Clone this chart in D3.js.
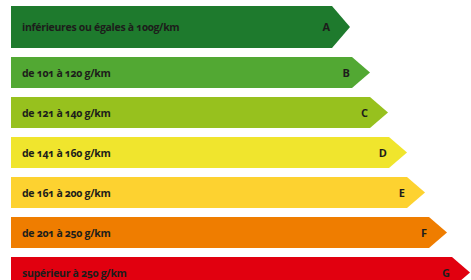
<!DOCTYPE html>
<html>
<head>
<meta charset="utf-8">
<script src="https://cdn.jsdelivr.net/npm/d3@7"></script>
<style>
  html, body { margin: 0; padding: 0; background: #ffffff; overflow: hidden; }
  svg { display: block; }
  text { font-family: "Open Sans", "Lato", sans-serif; font-weight: 700; fill: #1d1d1b; font-variant-numeric: oldstyle-nums; font-feature-settings: "onum" 1; }
</style>
</head>
<body>
<svg id="chart" width="471" height="280"></svg>
<script>
// Classes d'émission de CO2
const classes = ["A", "B", "C", "D", "E", "F", "G"];
const labels = [
  "inférieures ou égales à 100g/km",
  "de 101 à 120 g/km",
  "de 121 à 140 g/km",
  "de 141 à 160 g/km",
  "de 161 à 200 g/km",
  "de 201 à 250 g/km",
  "supérieur à 250 g/km"
];
// longueur relative de chaque flèche
const lengths = [321, 341, 359, 378, 396, 418, 441];
const colors = ["#1e7a2d", "#52a833", "#97c11e", "#f0e52d", "#fdd230", "#ef7d00", "#e1000f"];

const svg = d3.select("#chart");
const left = 11;
const x = d3.scaleLinear().domain([0, 460]).range([left, left + 460]);
const y = d3.scaleBand().domain(classes).range([12.5, 292.5]).paddingInner(0.225).paddingOuter(0.1125);
const tip = 18;

const rows = classes.map((c, i) => ({ c, label: labels[i], len: lengths[i], color: colors[i], i }));

const g = svg.selectAll("g.row").data(rows).join("g").attr("class", "row");

function geom(d) {
  let top = y(d.c);
  let h = y.bandwidth();
  if (d.i === 0) { top -= 11; h += 11; }
  return { top, h, mid: top + h / 2, x0: x(0), x1: x(d.len) };
}

g.append("path")
  .attr("d", d => {
    const q = geom(d);
    return `M${q.x0},${q.top}L${q.x1},${q.top}L${q.x1 + tip},${q.mid}L${q.x1},${q.top + q.h}L${q.x0},${q.top + q.h}Z`;
  })
  .attr("fill", d => d.color);

g.append("text")
  .attr("x", d => geom(d).x0 + 11)
  .attr("y", d => geom(d).mid + 4)
  .attr("font-size", 10.5)
  .attr("letter-spacing", -0.3)
  .text(d => d.label);

g.append("text")
  .attr("x", d => geom(d).x1 - 2)
  .attr("y", d => geom(d).mid + 4)
  .attr("text-anchor", "end")
  .attr("font-size", 11)
  .text(d => d.c);
</script>
</body>
</html>
